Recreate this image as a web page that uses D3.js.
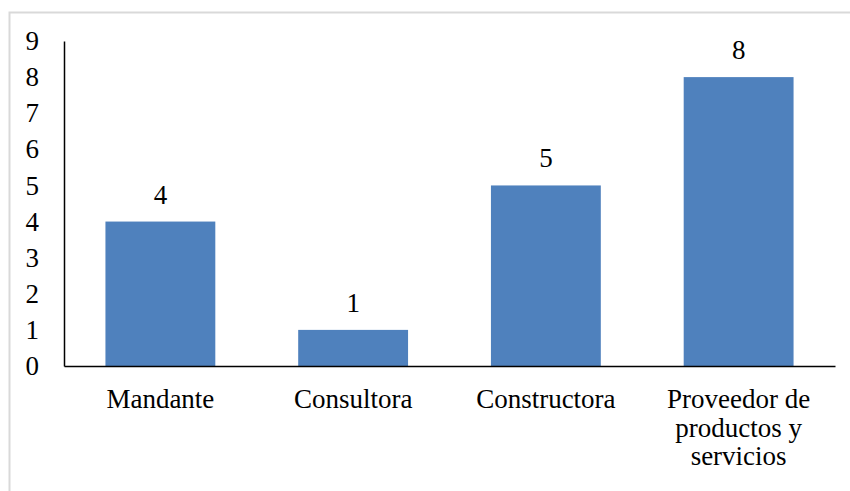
<!DOCTYPE html>
<html>
<head>
<meta charset="utf-8">
<script src="https://cdn.jsdelivr.net/npm/d3@7"></script>
<style>
  html, body { margin: 0; padding: 0; background: #fff; }
  svg { display: block; }
</style>
</head>
<body>
<svg id="chart" width="850" height="491"></svg>
<script>
// Number of participants by type of organization
const categories = ["Mandante", "Consultora", "Constructora", "Proveedor de productos y servicios"];
const labelLines = [["Mandante"], ["Consultora"], ["Constructora"], ["Proveedor de", "productos y", "servicios"]];
const values = [4, 1, 5, 8];
const yTicks = [0, 1, 2, 3, 4, 5, 6, 7, 8, 9];

const svg = d3.select("#chart")
  .attr("font-family", "'Liberation Serif', 'Times New Roman', serif");
const W = 850, H = 491;
const plot = { left: 64, right: 835, top: 41, bottom: 366 };
const fontSize = 27;
const serif = "'Liberation Serif', 'Times New Roman', serif";

// outer frame
svg.append("rect")
  .attr("x", 9.5).attr("y", 12.5)
  .attr("width", W).attr("height", H)
  .attr("fill", "#fff")
  .attr("stroke", "#d9d9d9").attr("stroke-width", 2);

const x = d3.scaleBand().domain(categories).range([plot.left, plot.right]).paddingInner(0.43).paddingOuter(0.215);
const y = d3.scaleLinear().domain([0, 9]).range([plot.bottom, plot.top]);

// bars
svg.append("g").selectAll("rect")
  .data(values)
  .join("rect")
  .attr("x", (d, i) => x(categories[i]))
  .attr("y", d => y(d))
  .attr("width", x.bandwidth())
  .attr("height", d => y(0) - y(d))
  .attr("fill", "#4f81bd");

// value labels
svg.append("g").selectAll("text")
  .data(values)
  .join("text")
  .attr("x", (d, i) => x(categories[i]) + x.bandwidth() / 2)
  .attr("y", d => y(d) - 18)
  .attr("text-anchor", "middle")
  .attr("font-family", serif)
  .attr("font-size", fontSize)
  .attr("fill", "#000")
  .text(d => d);

// y axis
const yAxis = d3.axisLeft(y).tickValues(yTicks).tickSize(0).tickPadding(25).tickFormat(d3.format("d"));
const gy = svg.append("g").attr("transform", `translate(${plot.left},0)`).call(yAxis)
  .attr("font-family", serif).attr("font-size", fontSize);
gy.select(".domain").attr("stroke", "#000").attr("stroke-width", 1.5);
gy.selectAll("text").attr("fill", "#000");

// x axis
const xAxis = d3.axisBottom(x).tickSize(0).tickFormat("");
const gx = svg.append("g").attr("transform", `translate(0,${plot.bottom})`).call(xAxis);
gx.select(".domain").attr("stroke", "#000").attr("stroke-width", 1.5);

// category labels (wrapped)
const lab = svg.append("g").selectAll("text")
  .data(categories)
  .join("text")
  .attr("text-anchor", "middle")
  .attr("x", d => x(d) + x.bandwidth() / 2)
  .attr("y", plot.bottom + 42)
  .attr("font-family", serif)
  .attr("font-size", fontSize)
  .attr("fill", "#000");
lab.each(function(d, i) {
  d3.select(this).selectAll("tspan")
    .data(labelLines[i])
    .join("tspan")
    .attr("x", x(d) + x.bandwidth() / 2)
    .attr("dy", (t, j) => j === 0 ? 0 : 28.5)
    .text(t => t);
});
</script>
</body>
</html>
